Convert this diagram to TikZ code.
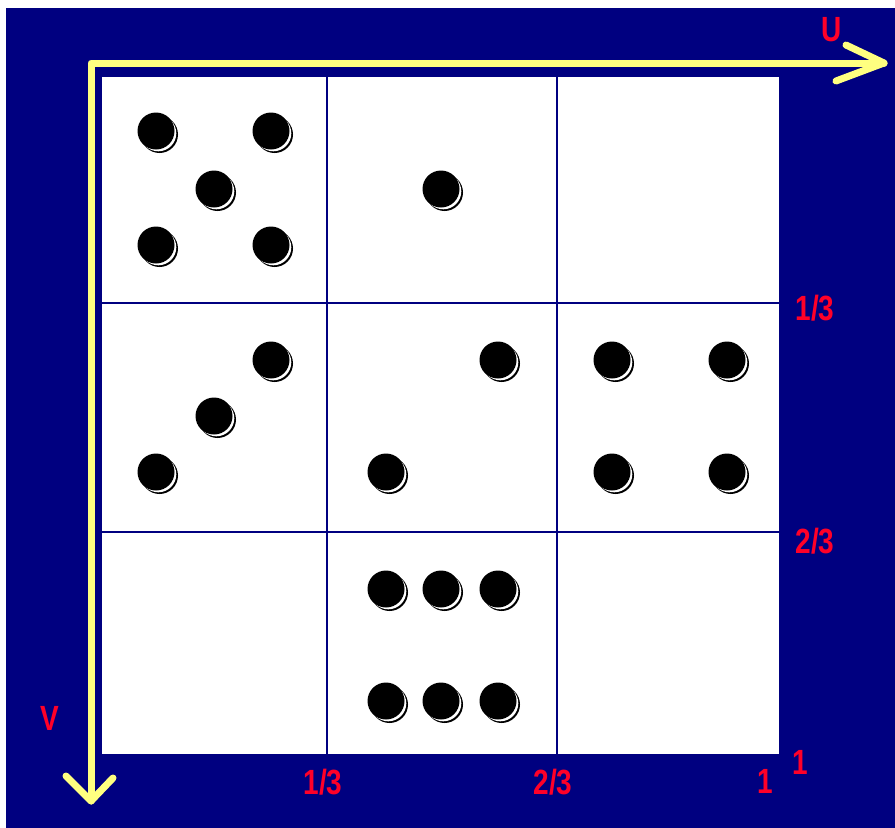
\documentclass[tikz,border=0pt]{standalone}
\usepackage{fontspec}
\setmainfont{Liberation Sans}
\definecolor{navybg}{RGB}{0,0,128}
\definecolor{axisyellow}{RGB}{255,255,128}
\definecolor{labelred}{RGB}{255,0,40}
\begin{document}
\begin{tikzpicture}[x=1pt,y=-1pt,
  axis/.style={draw=axisyellow,line width=7pt,line cap=round,line join=round},
  lab/.style={text=labelred,font=\fontsize{35}{35}\selectfont\bfseries,inner sep=0pt,xscale=0.8},
  gridline/.style={draw=navybg,line width=1.6pt},
  dotpic/.pic={
    \fill[black] (3.5,3.5) circle (18.5);
    \fill[white] (2.3,2.3) circle (18.0);
    \fill[black] (0,0) circle (18.5);
  }]
\useasboundingbox (0,0) rectangle (895,828);
\fill[white] (0,0) rectangle (895,828);
\fill[navybg] (6,8) rectangle (895,828);
% panel
\node[fill=white,draw=none,minimum width=677pt,minimum height=677pt,inner sep=0pt,anchor=north west] (panel) at (102,77) {};
\draw[gridline] (327,77) -- (327,754);
\draw[gridline] (557,77) -- (557,754);
\draw[gridline] (102,303) -- (779,303);
\draw[gridline] (102,532) -- (779,532);
% axes
\coordinate (origin) at (91,63);
\coordinate (utip) at (884,63);
\coordinate (uarmA) at (846,45);
\coordinate (uarmB) at (836,81);
\coordinate (vtip) at (91,801);
\coordinate (varmA) at (66,776);
\coordinate (varmB) at (113,778);
\draw[axis] (utip) -- (origin) -- (vtip);
\draw[axis] (uarmA) -- (utip) -- (uarmB);
\draw[axis] (varmA) -- (vtip) -- (varmB);
% labels
\node[lab] (lu) at (832,30) {U};
\node[lab] (lv) at (50,718) {V};
\node[lab] (r13) at (815,308) {1/3};
\node[lab] (r23) at (815,541) {2/3};
\node[lab] (r1) at (800,762) {1};
\node[lab] (b1) at (765,781) {1};
\node[lab] (b13) at (323,782) {1/3};
\node[lab] (b23) at (553,782) {2/3};
% dots
\foreach \px/\py in {156/131,271/131,214/189,156/245,271/245,
  441/189,
  271/360,214/416,156/472,
  498/360,386/472,
  612/360,727/360,612/472,727/472,
  386/589,441/589,498/589,386/701,441/701,498/701}
  \pic at (\px,\py) {dotpic};
\end{tikzpicture}
\end{document}
